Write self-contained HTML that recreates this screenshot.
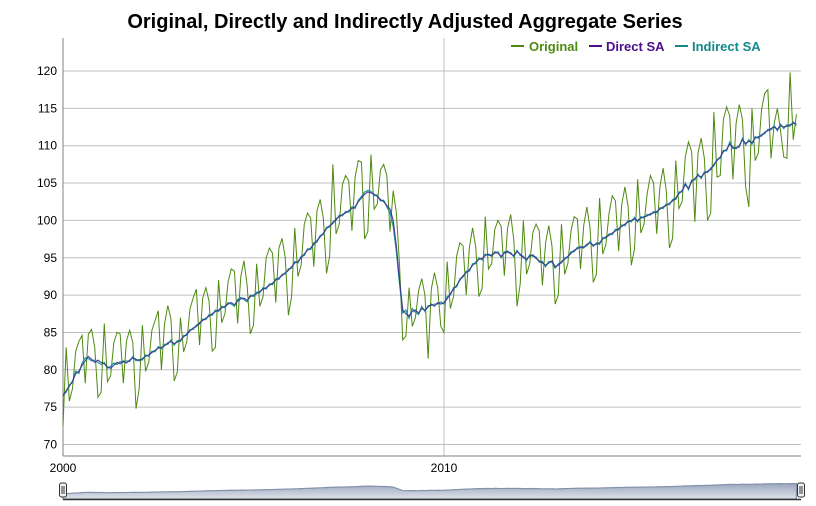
<!DOCTYPE html>
<html><head><meta charset="utf-8">
<style>
html,body{margin:0;padding:0;background:#fff;}
svg{display:block;font-family:"Liberation Sans",Arial,sans-serif;}
</style></head>
<body>
<svg id="chart" width="816" height="506" viewBox="0 0 816 506" xmlns="http://www.w3.org/2000/svg">
  <defs>
    <linearGradient id="navgrad" x1="0" y1="0" x2="0" y2="1">
      <stop offset="0" stop-color="#9aa6bd"/>
      <stop offset="1" stop-color="#dfe3ea"/>
    </linearGradient>
  </defs>
  <text x="405" y="28" text-anchor="middle" font-size="20" font-weight="bold" fill="#000">Original, Directly and Indirectly Adjusted Aggregate Series</text>
  <g id="grid"></g>
  <g id="yticks"></g>
  <g id="xticks"></g>
  <g id="series"></g>
  <g font-size="13" font-weight="bold">
    <g>
      <line x1="511" y1="46" x2="524" y2="46" stroke="#4e8a10" stroke-width="2"/>
      <text x="529" y="51" fill="#4e8a10">Original</text>
    </g>
    <g>
      <line x1="589" y1="46" x2="602" y2="46" stroke="#4b0f8c" stroke-width="2"/>
      <text x="606" y="51" fill="#4b0f8c">Direct SA</text>
    </g>
    <g>
      <line x1="675" y1="46" x2="688" y2="46" stroke="#138a8a" stroke-width="2"/>
      <text x="692" y="51" fill="#138a8a">Indirect SA</text>
    </g>
  </g>
  <g id="nav"></g>
</svg>
<script>
const yTicks=[70,75,80,85,90,95,100,105,110,115,120];
const xTickYears=[2000,2010];
const startYear=2000;
const original=[
72.5,83.0,75.8,77.5,82.5,83.8,84.6,78.2,84.8,85.4,83.0,76.3,
77.0,86.2,78.4,79.2,83.6,85.0,84.8,78.2,83.9,85.3,83.6,74.8,
77.5,86.0,79.8,81.0,85.3,86.6,87.9,80.0,86.2,88.6,86.8,78.5,
79.7,87.0,82.4,83.8,88.2,89.6,90.8,83.3,89.6,91.0,89.2,82.5,
83.0,92.0,86.3,87.5,91.8,93.5,93.2,86.2,92.5,94.6,91.3,84.8,
86.0,94.2,88.5,89.8,95.0,96.3,95.6,89.0,96.3,97.6,95.0,87.3,
89.8,99.0,92.5,94.0,99.5,101.0,100.3,93.8,101.3,102.8,100.3,92.9,
95.3,107.5,98.2,99.5,104.8,106.0,105.3,98.6,105.8,108.0,107.8,97.5,
98.5,108.8,101.5,102.2,106.8,107.5,106.0,98.5,104.0,101.0,94.0,84.0,
84.5,91.0,85.8,87.0,90.6,92.2,90.0,81.5,90.8,93.0,91.0,85.8,
85.0,94.5,88.2,89.8,95.3,97.0,96.6,90.0,96.4,99.0,96.4,89.8,
90.9,100.5,93.5,94.2,98.8,100.0,99.2,92.6,98.9,100.8,97.3,88.5,
91.5,100.0,92.8,94.2,98.4,99.5,98.6,91.3,97.0,99.3,96.6,88.8,
90.0,99.5,92.8,94.2,98.6,100.5,100.2,93.5,99.3,101.8,99.0,91.7,
92.8,103.0,95.5,96.8,101.0,103.3,102.6,95.9,102.2,104.5,101.8,94.0,
96.2,105.5,98.3,99.5,103.6,106.0,105.0,98.2,104.5,107.0,104.0,96.3,
97.6,108.0,101.6,102.5,108.5,110.5,109.2,99.8,109.0,111.0,108.3,100.0,
101.0,114.5,105.8,106.0,113.5,115.2,114.0,105.5,113.0,115.5,113.5,104.5,
101.8,115.0,108.0,109.0,114.8,117.0,117.5,108.3,113.0,115.0,112.0,108.5,
108.3,119.8,110.8,114.2];
const directSA=[
76.5,77.2,77.8,78.5,79.5,79.8,80.6,81.2,81.8,81.4,81.0,81.3,
81.0,80.8,80.4,80.2,80.6,81.0,80.8,81.2,80.9,81.3,81.6,81.4,
81.2,81.5,81.8,82.0,82.3,82.6,82.9,83.0,83.2,83.6,83.8,83.5,
83.7,84.0,84.4,84.8,85.2,85.6,85.8,86.3,86.6,86.9,87.2,87.5,
87.8,88.0,88.3,88.5,88.8,89.0,88.7,89.2,89.5,89.6,89.3,89.8,
90.0,90.2,90.5,90.8,91.0,91.3,91.6,92.0,92.3,92.6,93.0,93.3,
93.8,94.3,94.5,95.0,95.5,96.0,96.3,96.8,97.3,97.8,98.3,98.9,
99.3,99.6,100.2,100.5,100.8,101.0,101.3,101.6,101.8,102.5,103.0,103.5,
103.8,103.7,103.5,103.2,102.8,102.5,102.0,101.5,100.0,96.5,92.0,88.0,
87.5,87.2,87.8,88.0,87.6,88.2,88.0,88.4,88.8,88.5,89.0,88.8,
89.0,89.5,90.2,90.8,91.3,92.0,92.6,93.0,93.4,94.0,94.4,94.8,
94.9,95.3,95.5,95.2,95.8,95.6,95.2,95.6,95.9,95.5,95.3,95.8,
95.5,95.0,94.8,95.2,95.4,94.9,94.6,94.3,94.0,94.3,94.6,93.8,
94.0,94.5,94.8,95.2,95.6,96.0,96.2,96.5,96.3,96.8,97.0,96.7,
96.8,97.0,97.5,97.8,98.0,98.3,98.6,98.9,99.2,99.5,99.8,100.0,
100.2,100.0,100.3,100.5,100.6,100.9,101.0,101.2,101.5,101.8,102.0,102.3,
102.6,103.0,103.6,104.0,104.8,104.3,105.2,105.6,106.0,105.8,106.3,106.6,
106.8,107.5,108.0,108.5,109.2,109.5,110.2,109.8,109.6,110.0,110.8,110.3,
110.6,110.4,111.0,111.2,111.3,111.8,112.0,112.3,112.5,112.2,112.7,112.5,
112.6,112.8,113.0,112.9];
const indirectSA=[
76.7,77.0,78.0,78.3,79.8,79.5,80.9,81.6,81.5,81.2,81.3,81.0,
80.7,81.0,80.2,80.5,80.9,80.7,81.1,81.0,81.2,81.1,81.8,81.2,
81.4,81.3,82.0,81.8,82.5,82.4,83.1,82.8,83.4,83.4,84.0,83.3,
83.9,83.8,84.6,84.6,85.4,85.4,86.0,86.1,86.8,86.7,87.4,87.3,
88.0,87.8,88.5,88.3,89.0,88.8,88.5,89.4,89.7,89.4,89.1,90.0,
89.8,90.4,90.3,91.0,90.8,91.5,91.4,92.2,92.1,92.8,92.8,93.5,
93.6,94.5,94.3,95.2,95.3,96.2,96.1,97.0,97.1,98.0,98.1,99.1,
99.1,99.8,100.0,100.7,100.6,101.2,101.1,101.8,101.6,102.7,103.2,103.8,
104.0,103.9,103.3,103.4,102.6,102.7,101.8,101.0,99.2,95.8,91.5,87.6,
88.0,86.9,88.2,87.7,87.4,88.5,87.8,88.6,88.6,88.8,88.8,89.1,
88.8,89.8,90.0,91.0,91.1,92.2,92.4,93.2,93.2,94.2,94.2,95.0,
94.7,95.5,95.3,95.4,95.6,95.8,95.0,95.8,95.7,95.7,95.1,96.0,
95.3,95.2,94.6,95.4,95.2,95.1,94.4,94.5,93.8,94.5,94.4,93.6,
94.2,94.3,95.0,95.0,95.8,95.8,96.4,96.3,96.5,96.6,97.2,96.5,
97.0,96.8,97.7,97.6,98.2,98.1,98.8,98.7,99.4,99.3,100.0,99.8,
100.4,99.8,100.5,100.3,100.8,100.7,101.2,101.0,101.7,101.6,102.2,102.1,
102.8,102.8,103.8,103.8,105.0,104.1,105.4,105.4,106.2,105.6,106.5,106.4,
107.0,107.3,108.2,108.3,109.4,109.3,110.5,109.6,109.8,109.8,111.0,110.1,
110.8,110.2,111.2,111.0,111.5,111.6,112.2,112.1,112.7,112.0,112.9,112.3,
112.8,112.6,113.2,112.7];

const NS='http://www.w3.org/2000/svg';
const L=63,R=801,T=38,B=456;
const x0=63, pxPerYear=38.1;
function xs(i){return x0+i*pxPerYear/12;}
function ys(v){return 444.5-(v-70)*(444.5-71)/50;}
function mk(tag,attrs,parent){const e=document.createElementNS(NS,tag);for(const k in attrs)e.setAttribute(k,attrs[k]);parent.appendChild(e);return e;}
const grid=document.getElementById('grid');
mk('rect',{x:L,y:T,width:R-L,height:B-T,fill:'#fff'},grid);
yTicks.forEach(v=>{
  const ln=mk('line',{x1:L,x2:R,y1:ys(v),y2:ys(v),stroke:'#c0c0c0','stroke-width':1},grid);
  
  
  const t=mk('text',{x:57,y:ys(v)+4,'text-anchor':'end','font-size':12,fill:'#000'},document.getElementById('yticks'));
  t.textContent=v;
  
  
});
xTickYears.forEach(yr=>{
  const x=xs((yr-startYear)*12);
  const ln=mk('line',{x1:x,x2:x,y1:T,y2:B,stroke:'#c0c0c0','stroke-width':1},grid);
  
  
  const t=mk('text',{x:x,y:472,'text-anchor':'middle','font-size':12,fill:'#000'},document.getElementById('xticks'));
  t.textContent=yr;
  
  
});
const ax=mk('line',{x1:L,x2:L,y1:T,y2:B,stroke:'#808080','stroke-width':1},grid);


const bx=mk('line',{x1:L,x2:R,y1:B,y2:B,stroke:'#808080','stroke-width':1},grid);


function linePath(arr){return arr.map((v,i)=>(i?'L':'M')+xs(i).toFixed(2)+','+ys(v).toFixed(2)).join('');}
const sg=document.getElementById('series');
const p1=mk('path',{d:linePath(original),fill:'none',stroke:'#4e8a10','stroke-width':1},sg);


const p3=mk('path',{d:linePath(indirectSA),fill:'none',stroke:'#1a9a9a','stroke-width':1.2},sg);


const p2=mk('path',{d:linePath(directSA),fill:'none',stroke:'#3b2a8c','stroke-width':1.2,'stroke-opacity':0.85},sg);


// navigator
const nav=document.getElementById('nav');
function nys(v){return 497-(v-65)*(497-483)/50;}
let nd='M'+xs(0)+',499';
directSA.forEach((v,i)=>{nd+='L'+xs(i).toFixed(2)+','+nys(v).toFixed(2);});
nd+='L'+xs(directSA.length-1).toFixed(2)+',499Z';
const na=mk('path',{d:nd,fill:'url(#navgrad)',stroke:'#8592ad','stroke-width':1.2},nav);


const nb=mk('line',{x1:L,x2:R,y1:499.5,y2:499.5,stroke:'#333','stroke-width':1.5},nav);


[L,R].forEach(hx=>{
  const g=mk('g',{},nav);
  
  
  mk('rect',{x:hx-3.5,y:483,width:7,height:14,rx:2,fill:'#f2f2f2',stroke:'#333','stroke-width':1},g);
  mk('line',{x1:hx-1,x2:hx-1,y1:486,y2:494,stroke:'#333','stroke-width':1},g);
  mk('line',{x1:hx+1,x2:hx+1,y1:486,y2:494,stroke:'#333','stroke-width':1},g);
});
</script>
</body></html>
